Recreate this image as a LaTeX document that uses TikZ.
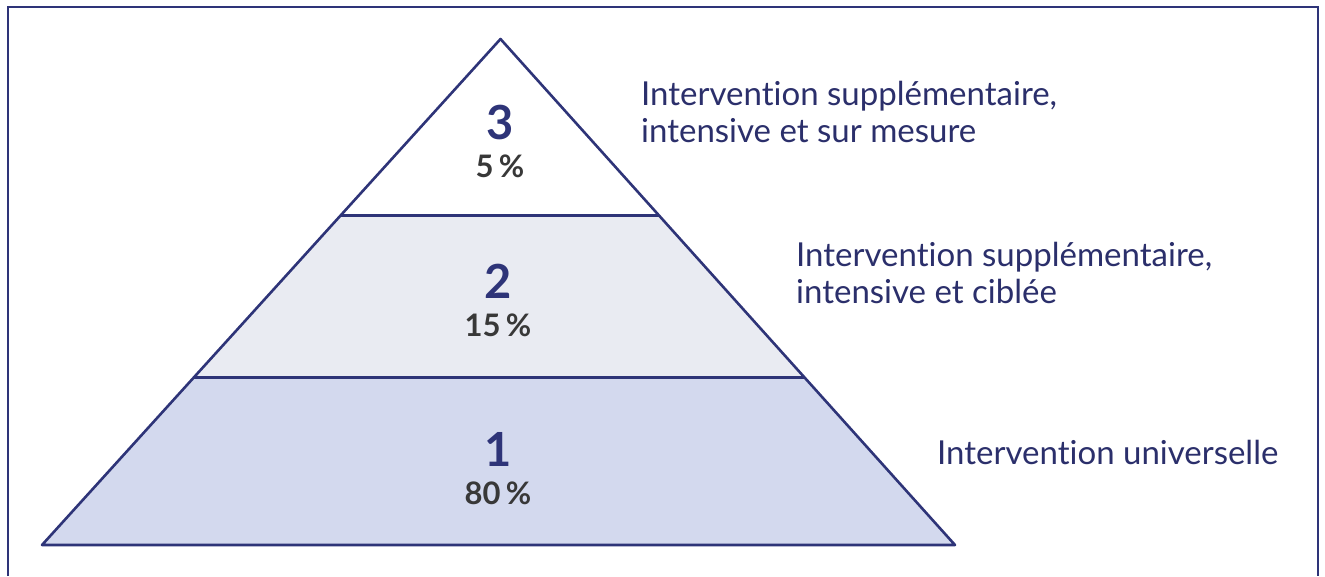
\documentclass[tikz,border=0pt]{standalone}
\usepackage{fontspec}
\setmainfont{Lato}[Ligatures=NoCommon]
\usetikzlibrary{positioning,calc}
\definecolor{navy}{HTML}{2E3478}
\definecolor{labelblue}{HTML}{2B2F6B}
\definecolor{pctgray}{HTML}{383838}
\definecolor{tiermid}{HTML}{E9EBF2}
\definecolor{tierlow}{HTML}{D3D9EE}
\tikzset{edge/.style={draw=navy, line width=2.6pt, line join=round},
  tiernum/.style={inner sep=0pt, text=navy, font={\fontsize{47}{47}\selectfont\bfseries}},
  tierpct/.style={inner sep=0pt, text=pctgray, font={\fontsize{31}{31}\selectfont\bfseries}},
  tierlabel/.style={inner sep=0pt, text=labelblue, align=left, font={\fontsize{33}{37}\selectfont}}}

\begin{document}
\begin{tikzpicture}[x=1pt, y=-1pt]
    \useasboundingbox (0,0) rectangle (1325,576);
    % frame, open at the bottom
    \draw[draw=navy, line width=2pt] (8,576) -- (8,7) -- (1317.5,7) -- (1317.5,576);

    \coordinate (apex) at (500.5,39);
    \coordinate (bl) at (42,545);
    \coordinate (br) at (955,545);
    \coordinate (m3l) at ($(apex)!0.3485!(bl)$);
    \coordinate (m3r) at ($(apex)!0.3485!(br)$);
    \coordinate (m2l) at ($(apex)!0.6693!(bl)$);
    \coordinate (m2r) at ($(apex)!0.6693!(br)$);

    \fill[tierlow] (m2l) -- (m2r) -- (br) -- (bl) -- cycle;
    \fill[tiermid] (m3l) -- (m3r) -- (m2r) -- (m2l) -- cycle;
    \draw[edge] (apex) -- (br) -- (bl) -- cycle;
    \draw[edge] (m3l) -- (m3r);
    \draw[edge] (m2l) -- (m2r);

    \node[tiernum, anchor=base] (n3) at (500,139) {3};
    \node[tierpct, below=15pt of n3] (p3) {5\,\%};
    \node[tiernum, anchor=base] (n2) at (498,298) {2};
    \node[tierpct, below=15pt of n2] (p2) {15\,\%};
    \node[tiernum, anchor=base] (n1) at (498,466) {1};
    \node[tierpct, below=15pt of n1] (p1) {80\,\%};

    % base of a two-line label is its last line
    \node[tierlabel, anchor=base west] (l3) at (641,142) {Intervention supplémentaire,\\intensive et sur mesure};
    \node[tierlabel, anchor=base west] (l2) at (796,303) {Intervention supplémentaire,\\intensive et ciblée};
    \node[tierlabel, anchor=base west] (l1) at (937,464) {Intervention universelle};
\end{tikzpicture}
\end{document}
